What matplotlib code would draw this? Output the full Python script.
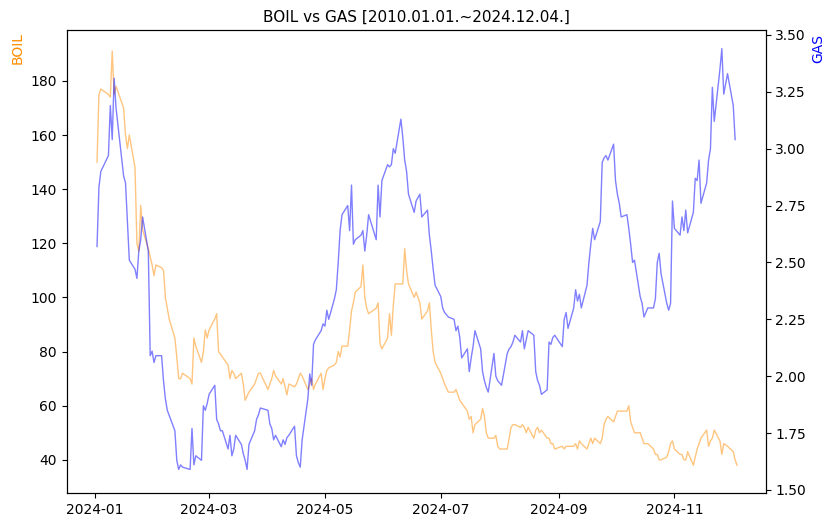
import matplotlib
matplotlib.use("Agg")
import matplotlib.pyplot as plt
import matplotlib.dates as mdates
import pandas as pd

boil_days = ["01-02","01-03","01-04","01-08","01-09","01-10","01-11","01-12","01-16","01-17","01-18","01-19",
    "01-22","01-23","01-24","01-25","01-26","01-29","01-30","01-31","02-01","02-02","02-05","02-06","02-07",
    "02-09","02-12","02-13","02-14","02-15","02-16","02-20","02-21","02-22","02-23","02-26","02-27","02-28",
    "02-29","03-01","03-04","03-05","03-06","03-08","03-11","03-12","03-13","03-14","03-15","03-18","03-19",
    "03-20","03-22","03-25","03-26","03-27","03-28","04-01","04-02","04-03","04-04","04-05","04-08","04-09",
    "04-10","04-11","04-12","04-15","04-16","04-17","04-18","04-19","04-22","04-23","04-24","04-25","04-26",
    "04-29","04-30","05-01","05-02","05-03","05-06","05-07","05-08","05-09","05-10","05-13","05-14","05-15",
    "05-16","05-17","05-20","05-21","05-22","05-23","05-24","05-28","05-29","05-30","05-31","06-03","06-04",
    "06-05","06-06","06-07","06-10","06-11","06-12","06-13","06-14","06-17","06-18","06-20","06-21","06-24",
    "06-25","06-26","06-27","06-28","07-01","07-02","07-03","07-05","07-08","07-09","07-10","07-11","07-12",
    "07-15","07-16","07-17","07-18","07-19","07-22","07-23","07-24","07-25","07-26","07-29","07-30","07-31",
    "08-01","08-02","08-05","08-06","08-07","08-08","08-09","08-12","08-13","08-14","08-15","08-16","08-19",
    "08-20","08-21","08-22","08-23","08-26","08-27","08-28","08-29","08-30","09-03","09-04","09-05","09-06",
    "09-09","09-10","09-11","09-12","09-13","09-16","09-17","09-18","09-19","09-20","09-23","09-24","09-25",
    "09-26","09-27","09-30","10-01","10-02","10-03","10-04","10-07","10-08","10-09","10-10","10-11","10-14",
    "10-15","10-16","10-17","10-18","10-21","10-22","10-23","10-24","10-25","10-28","10-29","10-30","10-31",
    "11-01","11-04","11-05","11-06","11-07","11-08","11-11","11-12","11-13","11-14","11-15","11-18","11-19",
    "11-20","11-21","11-22","11-25","11-26","11-27","11-29","12-02","12-03","12-04"]
boil = [150,175,177,175,174,191,175,178,170,160,155,160,148,120,117,134,125,118,115,112,108,112,111,110,100,
    92,85,78,70,70,72,70,68,85,82,76,80,88,85,88,92,94,80,78,75,70,73,72,70,72,68,62,65,68,70,72,72,66,68,
    70,73,71,68,70,67,64,68,67,68,70,72,71,66,68,70,66,68,72,66,70,73,74,75,76,80,78,82,82,88,95,98,102,104,
    112,100,96,94,96,98,83,81,85,94,86,97,105,105,105,118,110,105,100,102,98,92,95,98,88,80,76,72,70,68,65,
    65,66,64,62,61,58,55,56,50,53,55,59,56,50,48,48,49,45,44,44,44,48,52,53,53,52,53,52,50,52,48,51,52,50,
    51,48,48,46,46,44,45,44,45,45,45,46,44,47,46,44,46,48,46,48,46,48,53,55,56,54,56,58,58,58,58,60,54,52,
    50,50,48,46,46,46,44,42,42,40,40,41,43,46,47,44,42,42,40,40,43,38,41,44,46,48,51,45,47,48,51,47,42,46,
    45,43,40,38]

gas_days = ["01-02","01-03","01-04","01-08","01-09","01-10","01-11","01-12","01-16","01-17","01-19","01-22",
    "01-23","01-24","01-25","01-26","01-29","01-30","01-31","02-01","02-02","02-05","02-06","02-07","02-08",
    "02-12","02-13","02-14","02-15","02-16","02-20","02-21","02-22","02-23","02-26","02-27","02-28","02-29",
    "03-01","03-04","03-05","03-06","03-07","03-08","03-11","03-12","03-13","03-14","03-15","03-18","03-19",
    "03-20","03-21","03-22","03-25","03-26","03-27","03-28","04-01","04-02","04-03","04-04","04-05","04-08",
    "04-09","04-10","04-11","04-12","04-15","04-16","04-17","04-18","04-19","04-22","04-23","04-24","04-25",
    "04-26","04-29","04-30","05-01","05-02","05-03","05-06","05-07","05-08","05-09","05-10","05-13","05-14",
    "05-15","05-16","05-17","05-20","05-21","05-22","05-23","05-24","05-28","05-29","05-30","05-31","06-03",
    "06-04","06-05","06-06","06-07","06-10","06-11","06-12","06-13","06-14","06-17","06-18","06-20","06-21",
    "06-24","06-25","06-26","06-27","06-28","07-01","07-02","07-03","07-05","07-08","07-09","07-10","07-11",
    "07-12","07-15","07-16","07-17","07-18","07-19","07-22","07-23","07-24","07-25","07-26","07-29","07-30",
    "07-31","08-01","08-02","08-05","08-06","08-07","08-08","08-09","08-12","08-13","08-14","08-15","08-16",
    "08-19","08-20","08-21","08-22","08-23","08-26","08-27","08-28","08-29","08-30","09-03","09-04","09-05",
    "09-06","09-09","09-10","09-11","09-12","09-13","09-16","09-17","09-18","09-19","09-20","09-23","09-24",
    "09-25","09-26","09-27","09-30","10-01","10-02","10-03","10-04","10-07","10-08","10-09","10-10","10-11",
    "10-14","10-15","10-16","10-17","10-18","10-21","10-22","10-23","10-24","10-25","10-28","10-29","10-30",
    "10-31","11-01","11-04","11-05","11-06","11-07","11-08","11-11","11-12","11-13","11-14","11-15","11-18",
    "11-19","11-20","11-21","11-22","11-25","11-26","11-27","11-29","12-02","12-03","12-04"]
gas = [2.57,2.83,2.90,2.97,3.19,3.04,3.31,3.18,2.88,2.85,2.51,2.47,2.43,2.55,2.60,2.70,2.55,2.09,2.11,2.06,
    2.09,2.09,1.98,1.90,1.85,1.76,1.63,1.59,1.61,1.60,1.59,1.77,1.61,1.65,1.63,1.87,1.85,1.88,1.92,1.96,1.81,
    1.79,1.76,1.76,1.68,1.74,1.65,1.68,1.74,1.70,1.66,1.63,1.59,1.70,1.76,1.81,1.83,1.86,1.85,1.79,1.77,1.72,
    1.74,1.69,1.72,1.70,1.73,1.74,1.78,1.65,1.62,1.60,1.72,1.90,2.01,1.96,2.14,2.16,2.20,2.23,2.22,2.29,2.25,
    2.34,2.38,2.50,2.64,2.71,2.75,2.64,2.84,2.58,2.60,2.62,2.64,2.55,2.62,2.71,2.60,2.84,2.70,2.86,2.93,2.92,
    2.93,3.00,2.98,3.13,3.05,2.95,2.90,2.80,2.72,2.77,2.80,2.70,2.73,2.62,2.55,2.47,2.40,2.35,2.30,2.28,2.26,
    2.25,2.20,2.22,2.17,2.08,2.12,2.02,2.08,2.13,2.20,2.12,2.02,1.98,1.95,1.93,2.10,2.00,1.98,1.97,1.96,2.10,
    2.12,2.13,2.15,2.18,2.15,2.20,2.12,2.16,2.20,2.18,2.02,1.98,1.96,1.92,1.94,2.15,2.14,2.17,2.18,2.13,2.25,
    2.28,2.21,2.30,2.38,2.33,2.36,2.30,2.40,2.50,2.58,2.65,2.60,2.68,2.94,2.96,2.97,2.95,3.02,2.86,2.80,2.76,
    2.70,2.71,2.65,2.58,2.50,2.51,2.35,2.32,2.26,2.28,2.30,2.30,2.34,2.50,2.54,2.45,2.32,2.29,2.32,2.77,2.65,
    2.62,2.70,2.64,2.73,2.63,2.72,2.87,2.86,2.95,2.76,2.85,2.95,3.00,3.27,3.12,3.35,3.44,3.24,3.33,3.19,3.04]

n = min(len(gas_days), len(gas))
bx = pd.to_datetime(["2024-" + d for d in boil_days])
gx = pd.to_datetime(["2024-" + d for d in gas_days[:n]])

fig = plt.figure(figsize=(8.33, 5.26), dpi=100)
ax = fig.add_axes([0.080, 0.063, 0.839, 0.880])
ax.plot(bx, boil, color="darkorange", alpha=0.5, linewidth=1)
ax.set_ylabel("BOIL", color="darkorange")
ax.yaxis.set_label_coords(-0.06, 0.96)
ax.set_ylim(27.8, 198.8)

ax2 = ax.twinx()
ax2.plot(gx, gas[:n], color="blue", alpha=0.5, linewidth=1)
ax2.set_ylabel("GAS", color="blue")
ax2.yaxis.set_label_coords(1.065, 0.96)
ax2.set_ylim(1.487, 3.522)

ax.xaxis.set_major_locator(mdates.MonthLocator(bymonth=[1, 3, 5, 7, 9, 11]))
ax.xaxis.set_major_formatter(mdates.DateFormatter("%Y-%m"))
ax.set_xlim(pd.Timestamp("2023-12-17"), pd.Timestamp("2024-12-19"))
ax.set_title("BOIL vs GAS [2010.01.01.~2024.12.04.]", fontsize=11)

fig.savefig("out.png", dpi=100)
